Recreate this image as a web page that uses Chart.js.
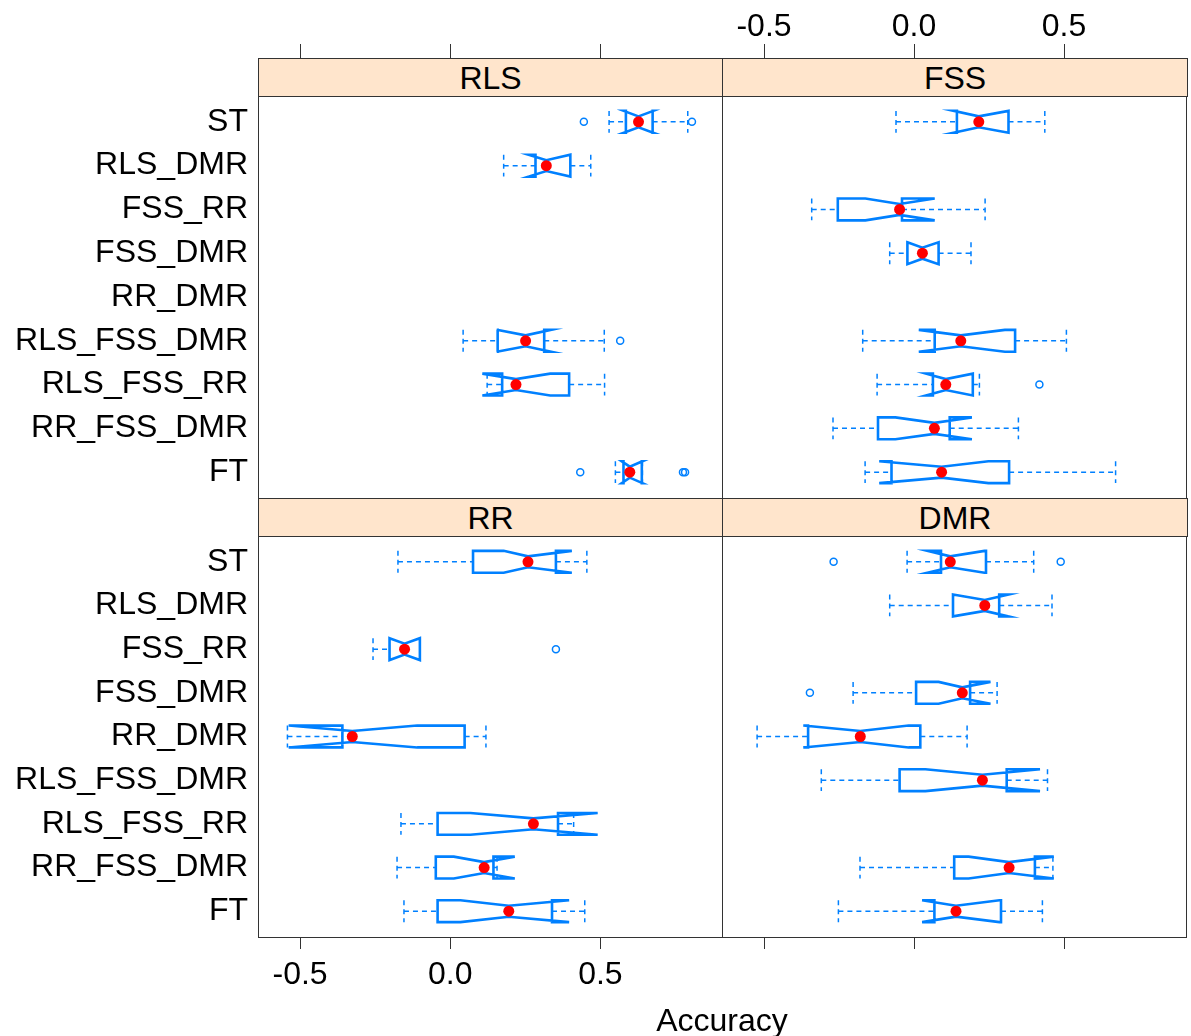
<!DOCTYPE html>
<html>
<head>
<meta charset="utf-8">
<script src="https://cdn.jsdelivr.net/npm/chart.js@4"></script>
<style>
  body { margin: 0; background: #fff; }
  #wrap { position: relative; width: 1191px; height: 1036px; font-family: "Liberation Sans", Arial, sans-serif; }
  #wrap canvas { position: absolute; left: 0; top: 0; }
  .strip { position: absolute; box-sizing: border-box; background: #ffe5cc; border: 1px solid #333;
           text-align: center; font-size: 32px; color: #000; height: 39px; line-height: 38px; }
  #xtitle { position: absolute; left: 522px; width: 400px; top: 1000px; text-align: center; font-size: 32px; line-height: 40px; }
</style>
</head>
<body>
<div id="wrap">
  <canvas id="panelRLS" width="1191" height="1036"></canvas>
  <canvas id="panelFSS" width="1191" height="1036"></canvas>
  <canvas id="panelRR" width="1191" height="1036"></canvas>
  <canvas id="panelDMR" width="1191" height="1036"></canvas>
  <div class="strip" style="left:258px;top:58px;width:465px;">RLS</div>
  <div class="strip" style="left:722px;top:58px;width:466px;">FSS</div>
  <div class="strip" style="left:258px;top:498px;width:465px;">RR</div>
  <div class="strip" style="left:722px;top:498px;width:466px;">DMR</div>
  <div id="xtitle">Accuracy</div>
</div>
<script>
const categories = ['ST', 'RLS_DMR', 'FSS_RR', 'FSS_DMR', 'RR_DMR', 'RLS_FSS_DMR', 'RLS_FSS_RR', 'RR_FSS_DMR', 'FT'];
const xTicks = [-0.5, 0.0, 0.5];

// each row: [whisker low, Q1, median, Q3, whisker high, notch low, notch high]; null = no box
const rlsStats = [
    [0.529, 0.585, 0.627, 0.674, 0.791, 0.578, 0.676],
    [0.178, 0.284, 0.320, 0.400, 0.468, 0.261, 0.400],
    null,
    null,
    null,
    [0.043, 0.158, 0.251, 0.313, 0.513, 0.155, 0.336],
    [0.123, 0.173, 0.219, 0.396, 0.514, 0.107, 0.333],
    null,
    [0.550, 0.577, 0.598, 0.638, 0.640, 0.571, 0.640]
];
const rlsOutliers = [[0.445, 0.805], [], [], [], [], [0.566], [], [], [0.433, 0.775, 0.782]];

const fssStats = [
    [-0.060, 0.143, 0.216, 0.315, 0.436, 0.132, 0.315],
    null,
    [-0.341, -0.254, -0.048, -0.040, 0.237, -0.162, 0.069],
    [-0.081, -0.022, 0.028, 0.082, 0.190, -0.022, 0.082],
    null,
    [-0.171, 0.069, 0.156, 0.337, 0.508, 0.016, 0.303],
    [-0.123, 0.063, 0.106, 0.196, 0.218, 0.040, 0.196],
    [-0.270, -0.120, 0.068, 0.119, 0.348, -0.062, 0.193],
    [-0.163, -0.075, 0.092, 0.317, 0.672, -0.116, 0.248]
];
const fssOutliers = [[], [], [], [], [], [], [0.418], [], []];

const rrStats = [
    [-0.174, 0.076, 0.259, 0.352, 0.455, 0.178, 0.405],
    null,
    [-0.257, -0.202, -0.152, -0.101, -0.100, -0.202, -0.101],
    null,
    [-0.542, -0.359, -0.326, 0.048, 0.119, -0.538, -0.110],
    null,
    [-0.164, -0.042, 0.277, 0.359, 0.411, 0.067, 0.491],
    [-0.177, -0.048, 0.113, 0.144, 0.156, 0.012, 0.215],
    [-0.154, -0.042, 0.195, 0.339, 0.448, 0.034, 0.396]
];
const rrOutliers = [[], [], [0.352], [], [], [], [], [], []];

const dmrStats = [
    [-0.023, 0.090, 0.121, 0.240, 0.399, 0.045, 0.235],
    [-0.081, 0.130, 0.236, 0.284, 0.460, 0.130, 0.315],
    null,
    [-0.203, 0.007, 0.161, 0.187, 0.277, 0.082, 0.255],
    [-0.523, -0.353, -0.179, 0.021, 0.177, -0.369, -0.018],
    [-0.309, -0.048, 0.228, 0.309, 0.445, 0.038, 0.420],
    null,
    [-0.180, 0.134, 0.317, 0.403, 0.463, 0.182, 0.466],
    [-0.252, 0.068, 0.140, 0.290, 0.428, 0.027, 0.285]
];
const dmrOutliers = [[-0.268, 0.489], [], [], [-0.347], [], [], [], [], []];

const BLUE = '#0080ff';
const FONT = { family: '"Liberation Sans", Arial, sans-serif', size: 32 };
const XFONT = { family: '"Liberation Sans", Arial, sans-serif', size: 32, lineHeight: 1.0 };
const W = 1191, H = 1036;

// notched box + dashed whiskers, drawn under the median dots
function boxPlugin(stats) {
    return {
        id: 'notchedBoxes',
        beforeDatasetsDraw(chart) {
            const { ctx, scales: { x, y } } = chart;
            ctx.save();
            stats.forEach((s, i) => {
                if (!s) return;
                const [wlo, q1, med, q3, whi, nlo, nhi] = s.map(v => x.getPixelForValue(v));
                const yc = y.getPixelForValue(i);
                const h = Math.abs(y.getPixelForValue(i + 0.25) - yc);
                const top = yc - h, bot = yc + h, inset = h / 2;

                ctx.strokeStyle = BLUE;
                ctx.lineWidth = 1.5;
                ctx.setLineDash([5, 4]);
                ctx.beginPath();
                ctx.moveTo(wlo, yc); ctx.lineTo(q1, yc);
                ctx.moveTo(q3, yc); ctx.lineTo(whi, yc);
                ctx.moveTo(wlo, top); ctx.lineTo(wlo, bot);
                ctx.moveTo(whi, top); ctx.lineTo(whi, bot);
                ctx.stroke();

                ctx.setLineDash([]);
                ctx.lineWidth = 2.6;
                ctx.beginPath();
                ctx.moveTo(q1, top); ctx.lineTo(nlo, top); ctx.lineTo(med, top + inset);
                ctx.lineTo(nhi, top); ctx.lineTo(q3, top); ctx.lineTo(q3, bot);
                ctx.lineTo(nhi, bot); ctx.lineTo(med, bot - inset); ctx.lineTo(nlo, bot);
                ctx.lineTo(q1, bot); ctx.closePath();
                ctx.stroke();
            });
            ctx.restore();
        },
        afterDraw(chart) {
            const a = chart.chartArea;
            const ctx = chart.ctx;
            ctx.save();
            ctx.strokeStyle = '#333';
            ctx.lineWidth = 1;
            ctx.strokeRect(Math.round(a.left) + 0.5, Math.round(a.top) + 0.5,
                Math.round(a.width), Math.round(a.height));
            ctx.restore();
        }
    };
}

function drawPanel(id, stats, outliers, area, cfg) {
    const medians = [];
    stats.forEach((s, i) => { if (s) medians.push({ x: s[2], y: i }); });
    const outs = [];
    outliers.forEach((o, i) => o.forEach(v => outs.push({ x: v, y: i })));

    const xAxisH = cfg.xPos === 'top' ? area.top : H - area.bottom;

    new Chart(document.getElementById(id), {
        type: 'scatter',
        data: {
            datasets: [
                {
                    label: 'median',
                    data: medians,
                    pointRadius: 5.5,
                    pointBackgroundColor: '#ff0000',
                    pointBorderWidth: 0
                },
                {
                    label: 'outliers',
                    data: outs,
                    pointRadius: 3.5,
                    pointBackgroundColor: 'rgba(0,0,0,0)',
                    pointBorderColor: BLUE,
                    pointBorderWidth: 1.5
                }
            ]
        },
        options: {
            responsive: false,
            animation: false,
            devicePixelRatio: 1,
            layout: {
                padding: {
                    left: cfg.showY ? 0 : area.left,
                    right: W - area.right,
                    top: cfg.xPos === 'top' ? 0 : area.top,
                    bottom: cfg.xPos === 'bottom' ? 0 : H - area.bottom
                }
            },
            plugins: { legend: { display: false }, tooltip: { enabled: false } },
            scales: {
                x: {
                    type: 'linear',
                    position: cfg.xPos,
                    min: -0.64,
                    max: 0.905,
                    afterBuildTicks: ax => { ax.ticks = xTicks.map(v => ({ value: v })); },
                    afterFit: ax => { ax.height = xAxisH; },
                    grid: { drawOnChartArea: false, drawTicks: true, tickLength: cfg.xPos === 'top' ? 52 : 12, color: '#333', lineWidth: 1 },
                    border: { display: false },
                    ticks: {
                        autoSkip: false,
                        maxRotation: 0,
                        padding: cfg.xPos === 'top' ? 1 : 10,
                        font: XFONT,
                        color: cfg.showXLabels ? '#000' : 'rgba(0,0,0,0)',
                        callback: v => v.toFixed(1)
                    }
                },
                y: {
                    type: 'linear',
                    reverse: true,
                    min: -0.59,
                    max: 8.59,
                    display: cfg.showY,
                    afterBuildTicks: ax => { ax.ticks = categories.map((c, i) => ({ value: i })); },
                    afterFit: ax => { ax.width = cfg.showY ? area.left : 0; },
                    grid: { display: false, drawTicks: false },
                    border: { display: false },
                    ticks: {
                        autoSkip: false,
                        padding: 10,
                        font: FONT,
                        color: '#000',
                        callback: v => categories[v]
                    }
                }
            }
        },
        plugins: [boxPlugin(stats)]
    });
}

drawPanel('panelRLS', rlsStats, rlsOutliers, { left: 258, right: 722, top: 96, bottom: 498 }, { showY: true, xPos: 'top', showXLabels: false });
drawPanel('panelFSS', fssStats, fssOutliers, { left: 722, right: 1187, top: 96, bottom: 498 }, { showY: false, xPos: 'top', showXLabels: true });
drawPanel('panelRR', rrStats, rrOutliers, { left: 258, right: 722, top: 536, bottom: 937 }, { showY: true, xPos: 'bottom', showXLabels: true });
drawPanel('panelDMR', dmrStats, dmrOutliers, { left: 722, right: 1187, top: 536, bottom: 937 }, { showY: false, xPos: 'bottom', showXLabels: false });
</script>
</body>
</html>
